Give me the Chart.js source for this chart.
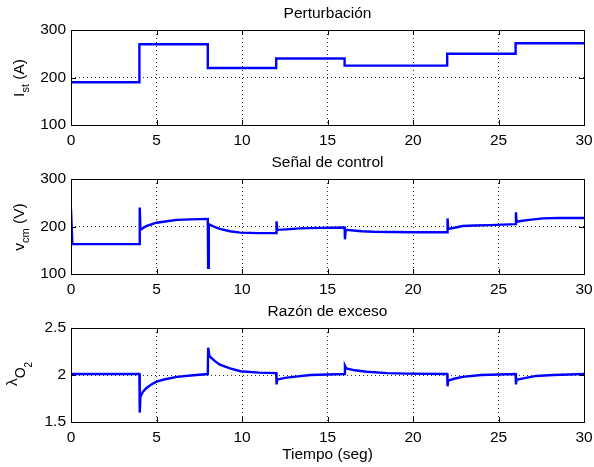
<!DOCTYPE html>
<html>
<head>
<meta charset="utf-8">
<script src="https://cdn.jsdelivr.net/npm/chart.js@4"></script>
<style>
  body { margin: 0; background: #fff; }
  #wrap { position: relative; width: 594px; height: 467px; }
  canvas { position: absolute; left: 0; }
</style>
</head>
<body>
<div id="wrap">
  <canvas id="c1" style="top:0px"></canvas>
  <canvas id="c2" style="top:150px"></canvas>
  <canvas id="c3" style="top:300px"></canvas>
</div>
<script>
// datos
const xTicks = [0, 5, 10, 15, 20, 25, 30];

// Perturbacion: corriente del stack (A)
const tiempoI = [0, 4, 4, 8, 8, 12, 12, 16, 16, 22, 22, 26, 26, 30];
const corrienteSt = [190, 190, 270, 270, 220, 220, 240, 240, 225, 225, 250, 250, 272, 272];

// Senal de control: tension del compresor (V)
const tiempoV = [0, 0.08, 4, 4.02, 4.06, 4.4, 5, 5.6, 6.2, 7, 8, 8.02, 8.06, 8.4, 8.7, 9.3, 9.9, 11, 12, 12.02,
  12.06, 12.6, 13.4, 14.5, 16, 16.02, 16.06, 17, 17.7, 20, 22, 22.02, 22.06, 22.5, 22.9, 23.6, 24.5, 26, 26.02, 26.06,
  26.4, 26.8, 27.6, 28.5, 30];
const tensionCm = [236, 163, 163, 240, 193, 201, 208, 211, 214, 215, 216, 113, 205, 199, 195, 190, 187, 186, 186, 211,
  193, 194, 196, 197, 198, 173, 193, 190, 189, 188, 188, 217, 195, 198, 201, 202, 203, 205, 230, 210,
  212, 214, 217, 218, 218];

// Razon de exceso de oxigeno
const tiempoL = [0, 4, 4.02, 4.06, 4.2, 4.4, 4.7, 5, 5.5, 6.2, 7, 8, 8.02, 8.1, 8.4, 8.7, 9.3, 9.9, 11, 12, 12.02, 12.06,
  12.5, 13, 14, 16, 16.02, 16.1, 16.6, 17.3, 18.5, 19.6, 22, 22.02, 22.06, 22.4, 22.9, 24, 26, 26.02, 26.06, 26.6,
  27.2, 28.2, 30];
const lambdaO2 = [2.01, 2.01, 1.60, 1.77, 1.82, 1.86, 1.90, 1.93, 1.955, 1.98, 1.995, 2.01, 2.29, 2.20, 2.15, 2.11, 2.07,
  2.04, 2.025, 2.02, 1.90, 1.95, 1.97, 1.98, 2.0, 2.01, 2.10, 2.07, 2.05, 2.035, 2.02, 2.015, 2.01, 1.88, 1.94, 1.96,
  1.98, 2.0, 2.01, 1.90, 1.95, 1.97, 1.99, 2.0, 2.01];

const FONT = '"Liberation Sans", Arial, sans-serif';
Chart.defaults.font.family = FONT;
Chart.defaults.font.size = 15.5;
Chart.defaults.color = '#000';

const toPoints = (xs, ys) => xs.map((x, i) => ({ x: x, y: ys[i] }));

// caja, marcas interiores, titulo y etiqueta del eje y
const marcoPlugin = {
  id: 'marco',
  afterDraw(chart, args, opts) {
    const ctx = chart.ctx;
    const a = chart.chartArea;
    const sx = chart.scales.x, sy = chart.scales.y;
    ctx.save();
    ctx.strokeStyle = '#000';
    ctx.lineWidth = 1;
    ctx.beginPath();
    sx.ticks.forEach((t) => {
      const px = Math.round(sx.getPixelForValue(t.value)) + 0.5;
      ctx.moveTo(px, a.bottom); ctx.lineTo(px, a.bottom - 5);
      ctx.moveTo(px, a.top); ctx.lineTo(px, a.top + 5);
    });
    sy.ticks.forEach((t) => {
      const py = Math.round(sy.getPixelForValue(t.value)) + 0.5;
      ctx.moveTo(a.left, py); ctx.lineTo(a.left + 5, py);
      ctx.moveTo(a.right, py); ctx.lineTo(a.right - 5, py);
    });
    ctx.stroke();
    ctx.strokeRect(Math.round(a.left) + 0.5, Math.round(a.top) + 0.5,
      Math.round(a.right - a.left), Math.round(a.bottom - a.top));

    ctx.fillStyle = '#000';
    ctx.textAlign = 'center';
    ctx.textBaseline = 'alphabetic';
    ctx.font = '15.5px ' + FONT;
    ctx.fillText(opts.titulo, (a.left + a.right) / 2, opts.tituloY);
    if (opts.xTitulo) ctx.fillText(opts.xTitulo, (a.left + a.right) / 2, opts.xTituloY);

    // etiqueta vertical con subindices
    ctx.translate(opts.labelX, opts.labelY);
    ctx.rotate(-Math.PI / 2);
    ctx.textAlign = 'left';
    let w = 0;
    opts.partes.forEach((p) => { ctx.font = p.size + 'px ' + FONT; w += ctx.measureText(p.text).width; });
    let x = -w / 2;
    opts.partes.forEach((p) => {
      ctx.font = p.size + 'px ' + FONT;
      ctx.fillText(p.text, x, p.dy);
      x += ctx.measureText(p.text).width;
    });
    ctx.restore();
  },
};

const makeChart = (id, height, top, bottom, xs, ys, yMin, yMax, yStep, marco) => {
  const cv = document.getElementById(id);
  cv.width = 594; cv.height = height;
  cv.style.width = '594px'; cv.style.height = height + 'px';
  return new Chart(cv, {
    type: 'line',
    data: {
      datasets: [{
        data: toPoints(xs, ys),
        borderColor: '#0000ff',
        borderWidth: 2.4,
        pointRadius: 0,
        tension: 0,
        fill: false,
      }],
    },
    options: {
      responsive: false,
      animation: false,
      layout: { padding: { left: 0, right: 10, top: top, bottom: 0 } },
      plugins: { legend: { display: false }, tooltip: { enabled: false }, marco: marco },
      scales: {
        x: {
          type: 'linear', min: 0, max: 30,
          afterBuildTicks: (s) => { s.ticks = xTicks.map((v) => ({ value: v })); },
          afterFit: (s) => { s.height = height - bottom; s.paddingLeft = 0; s.paddingRight = 0; },
          ticks: { padding: 6, maxRotation: 0 },
          grid: { color: 'rgba(0,0,0,0.8)', lineWidth: 1, drawTicks: false },
          border: { display: false, dash: [1, 3] },
        },
        y: {
          min: yMin, max: yMax,
          ticks: { stepSize: yStep, padding: 5, callback: (v) => String(v) },
          afterFit: (s) => { s.width = 71; s.paddingTop = 0; s.paddingBottom = 0; },
          grid: { color: 'rgba(0,0,0,0.8)', lineWidth: 1, drawTicks: false },
          border: { display: false, dash: [1, 3] },
        },
      },
    },
    plugins: [marcoPlugin],
  });
};

makeChart('c1', 150, 30, 125, tiempoI, corrienteSt, 100, 300, 100, {
  titulo: 'Perturbación', tituloY: 18,
  labelX: 24, labelY: 78,
  partes: [{ text: 'I', size: 15.5, dy: 0 }, { text: 'st', size: 11, dy: 5 }, { text: ' (A)', size: 15.5, dy: 0 }],
});

makeChart('c2', 150, 29, 124, tiempoV, tensionCm, 100, 300, 100, {
  titulo: 'Señal de control', tituloY: 17,
  labelX: 24, labelY: 77,
  partes: [{ text: 'v', size: 15.5, dy: 0 }, { text: 'cm', size: 11, dy: 5 }, { text: ' (V)', size: 15.5, dy: 0 }],
});

makeChart('c3', 167, 28, 122, tiempoL, lambdaO2, 1.5, 2.5, 0.5, {
  titulo: 'Razón de exceso', tituloY: 16,
  xTitulo: 'Tiempo (seg)', xTituloY: 159,
  labelX: 17, labelY: 74,
  partes: [{ text: 'λ', size: 15.5, dy: 0 }, { text: 'O', size: 14, dy: 8 }, { text: '2', size: 10, dy: 15 }],
});
</script>
</body>
</html>
